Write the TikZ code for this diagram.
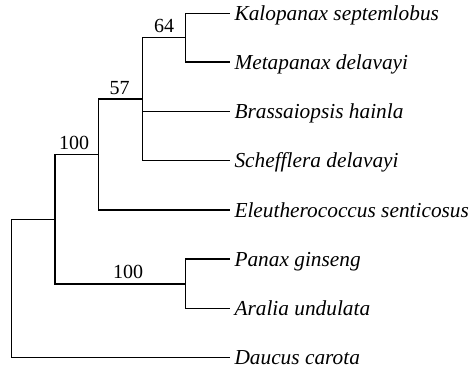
\documentclass[tikz,border=0pt]{standalone}
\usepackage{fontspec}
\setmainfont{Liberation Serif}
\usetikzlibrary{calc}

\begin{document}
\begin{tikzpicture}[x=0.75pt,y=-0.75pt,line width=1.1pt,
  taxon/.style={anchor=west,font=\fontsize{16}{19}\selectfont\itshape,
    inner sep=3pt,text height=10.6pt,text depth=0pt},
  soporte/.style={above,font=\fontsize{15}{18}\selectfont,inner sep=3pt}]
  \useasboundingbox (0,0) rectangle (472,374);
  % Especies
  \foreach \n/\y/\t in {kal/13.3/Kalopanax septemlobus,met/62/Metapanax delavayi,
      bra/111.3/Brassaiopsis hainla,sch/160.7/Schefflera delavayi,
      ele/210/Eleutherococcus senticosus,pan/259/Panax ginseng,
      ara/308.3/Aralia undulata,dau/357.7/Daucus carota}
    \node[taxon] (\n) at (229.8,\y) {\t};
  % Nodos internos
  \coordinate (n64) at (185.7,37.6);
  \coordinate (n57) at (142.7,99);
  \coordinate (n100a) at (98.3,154.5);
  \coordinate (nA) at (55,219.3);
  \coordinate (n100b) at (185.7,283.8);
  \coordinate (raiz) at (11.3,288.5);
  % Ramas
  \draw (n64) |- (kal.west) (n64) |- (met.west);
  \draw (n57) |- (n64) node[soporte,pos=0.75] {64};
  \draw (n57) |- (bra.west) (n57) |- (sch.west);
  \draw (n100a) |- (n57) node[soporte,pos=0.74] {57};
  \draw (n100a) |- (ele.west);
  \draw (nA) |- (n100a) node[soporte,pos=0.72] {100};
  \draw (n100b) |- (pan.west) (n100b) |- (ara.west);
  \draw (nA) |- (n100b) node[soporte,pos=0.78] {100};
  \draw (raiz) |- (nA) (raiz) |- (dau.west);
\end{tikzpicture}
\end{document}
